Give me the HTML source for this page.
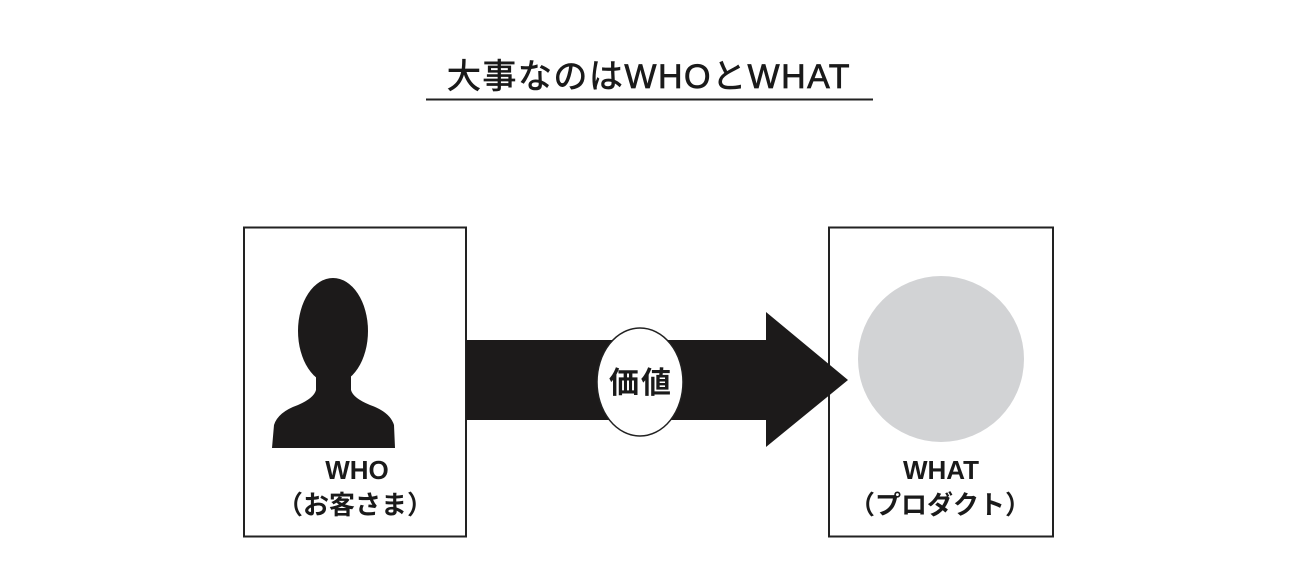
<!DOCTYPE html>
<html><head><meta charset="utf-8"><style>
html,body{margin:0;padding:0;background:#fff;}
svg{display:block;}
</style></head><body>
<svg width="1300" height="580" viewBox="0 0 1300 580" xmlns="http://www.w3.org/2000/svg">
<text x="649" y="88" text-anchor="middle" font-family="Liberation Sans, Noto Sans CJK JP, sans-serif" font-size="34" letter-spacing="1.5" fill="#1a1a1a" stroke="#1a1a1a" stroke-width="0.7">大事なのはWHOとWHAT</text>
<line x1="426" y1="99.5" x2="873" y2="99.5" stroke="#222" stroke-width="2"/>
<rect x="244" y="227.5" width="222" height="309" fill="#fff" stroke="#222" stroke-width="2"/>
<rect x="829" y="227.5" width="224" height="309" fill="#fff" stroke="#222" stroke-width="2"/>
<!-- person -->
<ellipse cx="333" cy="331" rx="35" ry="53" fill="#1c1a1a"/>
<path d="M316 370 L316 390 Q314 398 298 405 Q278 412 274 425 L272 448 L395 448 L394 425 Q390 412 370 405 Q353 398 351 390 L351 370 Z" fill="#1c1a1a"/>
<!-- arrow -->
<polygon points="466,340 766,340 766,312 848,380 766,447 766,420 466,420" fill="#1c1a1a"/>
<ellipse cx="640" cy="382" rx="43" ry="54" fill="#fff" stroke="#222" stroke-width="1.5"/>
<text x="641" y="393" text-anchor="middle" font-family="Liberation Sans, Noto Sans CJK JP, sans-serif" font-size="30" font-weight="bold" letter-spacing="2" fill="#1a1a1a">価値</text>
<circle cx="941" cy="359" r="83" fill="#d2d3d5"/>
<g font-family="Liberation Sans, Noto Sans CJK JP, sans-serif" font-size="26" font-weight="bold" fill="#1a1a1a" text-anchor="middle">
<text x="357" y="479">WHO</text>
<text x="355" y="514">（お客さま）</text>
<text x="941" y="479">WHAT</text>
<text x="940" y="514">（プロダクト）</text>
</g>
</svg>
</body></html>
